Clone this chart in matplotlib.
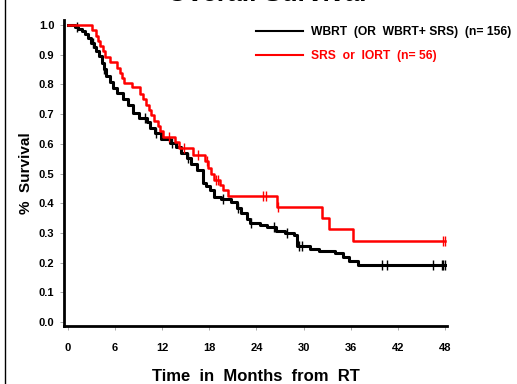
import numpy as np
import matplotlib
matplotlib.use('Agg')
import matplotlib.pyplot as plt
from matplotlib.lines import Line2D

plt.rcParams['font.family'] = ['Liberation Sans', 'DejaVu Sans']
plt.rcParams['font.weight'] = 'bold'

# Kaplan-Meier steps (time in months, survival after the drop)
wbrt_t = [0, 0.9, 1.3, 1.8, 2.2, 2.5, 2.9, 3.3, 3.6, 4.0, 4.3, 4.6, 4.9, 5.3, 5.7,
          6.3, 7.0, 7.6, 8.3, 9.0, 10.0, 10.4, 11.1, 11.8, 13.0, 13.8, 14.4, 15.1,
          15.7, 16.4, 17.2, 17.6, 18.1, 18.6, 19.5, 20.7, 21.5, 22.0, 22.8, 23.2,
          24.5, 25.4, 26.5, 27.7, 28.8, 29.2, 30.8, 32.0, 34.0, 35.0, 35.8, 37.0, 48.0]
wbrt_s = [1.0, 0.994, 0.987, 0.981, 0.970, 0.955, 0.940, 0.927, 0.912, 0.895, 0.872,
          0.853, 0.827, 0.808, 0.789, 0.770, 0.750, 0.731, 0.705, 0.686, 0.673, 0.654,
          0.635, 0.615, 0.602, 0.590, 0.570, 0.552, 0.532, 0.512, 0.470, 0.458, 0.445,
          0.422, 0.416, 0.404, 0.385, 0.366, 0.347, 0.334, 0.327, 0.320, 0.307, 0.301,
          0.294, 0.256, 0.245, 0.238, 0.232, 0.219, 0.207, 0.193, 0.193]
wbrt_cens = [1.1, 3.2, 4.6, 9.8, 11.2, 13.2, 15.3, 19.8, 21.6, 23.3, 26.3, 27.9,
             29.4, 29.8, 40.0, 40.6, 46.5, 47.6, 47.8, 48.0]

srs_t = [0, 3.1, 3.5, 3.8, 4.1, 4.4, 4.7, 5.3, 6.3, 6.6, 6.9, 7.1, 8.1, 9.2, 9.6, 9.9,
         10.3, 10.6, 11.0, 11.4, 11.7, 12.1, 13.6, 14.1, 15.9, 17.4, 17.8, 18.2, 18.6,
         19.3, 19.8, 20.4, 26.6, 32.4, 33.3, 36.3, 48.0]
srs_s = [1.0, 0.982, 0.964, 0.946, 0.929, 0.911, 0.893, 0.875, 0.857, 0.839, 0.821,
         0.804, 0.790, 0.768, 0.750, 0.732, 0.714, 0.696, 0.678, 0.660, 0.642, 0.624,
         0.605, 0.586, 0.562, 0.541, 0.520, 0.498, 0.477, 0.462, 0.446, 0.424, 0.386,
         0.350, 0.313, 0.274, 0.274]
srs_cens = [12.8, 14.8, 16.6, 17.7, 18.8, 19.1, 24.8, 25.2, 26.7, 47.8, 48.0]

x_ticks = [0, 6, 12, 18, 24, 30, 36, 42, 48]
y_ticks = [0.0, 0.1, 0.2, 0.3, 0.4, 0.5, 0.6, 0.7, 0.8, 0.9, 1.0]


def surv_at(times, surv, c):
    idx = np.searchsorted(times, c, side='right') - 1
    return np.array(surv)[idx]


fig = plt.figure(figsize=(5.17, 3.84), dpi=100)
ax = fig.add_axes([0.124, 0.151, 0.741, 0.797])

ax.step(wbrt_t, wbrt_s, where='post', color='black', lw=2.2, zorder=3)
ax.plot(wbrt_cens, surv_at(wbrt_t, wbrt_s, wbrt_cens), ls='none', marker='|',
        ms=7, mew=1.0, color='black', zorder=3)
ax.step(srs_t, srs_s, where='post', color='#ff0000', lw=1.8, zorder=4)
ax.plot(srs_cens, surv_at(srs_t, srs_s, srs_cens), ls='none', marker='|',
        ms=7, mew=1.0, color='#ff0000', zorder=4)

ax.set_xlim(-0.5, 48.3)
ax.set_ylim(-0.013, 1.017)
ax.set_xticks(x_ticks)
ax.set_yticks(y_ticks)
ax.set_yticklabels([f'{v:.1f}' for v in y_ticks])
ax.tick_params(axis='both', labelsize=8, length=3, width=0.6, color='#999999')
ax.tick_params(axis='x', pad=9)
ax.tick_params(axis='y', pad=4)
for lab in ax.get_xticklabels() + ax.get_yticklabels():
    lab.set_fontweight('bold')

for side in ['top', 'right']:
    ax.spines[side].set_visible(False)
for side in ['left', 'bottom']:
    ax.spines[side].set_linewidth(2.0)

ax.set_xlabel('Time  in  Months  from  RT', fontsize=12, fontweight='bold', labelpad=12)
ax.set_ylabel('%  Survival', fontsize=11, fontweight='bold', labelpad=4)

handles = [Line2D([], [], color='black', lw=1.5), Line2D([], [], color='#ff0000', lw=1.5)]
leg = fig.legend(handles, ['WBRT  (OR  WBRT+ SRS)  (n= 156)', 'SRS  or  IORT  (n= 56)'],
                 loc='upper right', bbox_to_anchor=(1.0, 0.947), frameon=False,
                 fontsize=8.7, handlelength=3.9, handletextpad=0.6, labelspacing=1.0,
                 borderaxespad=0.1)
leg.get_texts()[1].set_color('#ff0000')
for t in leg.get_texts():
    t.set_fontweight('bold')

fig.text(0.515, 1.015, 'Overall Survival', ha='center', va='center',
         fontsize=19, fontweight='bold')
fig.add_artist(Line2D([0.01, 0.01], [0, 1], transform=fig.transFigure,
                      color='black', lw=1.0))

fig.savefig('out.png', dpi=100)
